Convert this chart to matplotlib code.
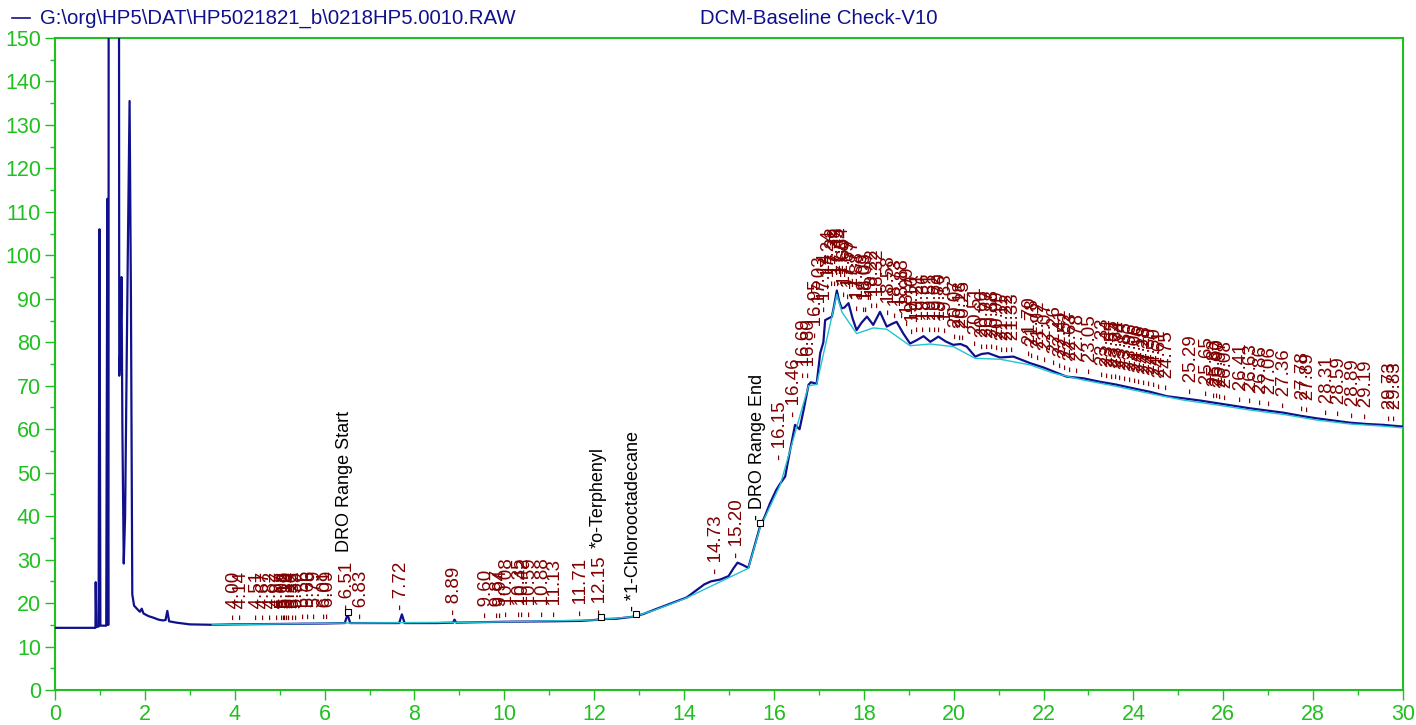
import numpy as np
import matplotlib
matplotlib.use("Agg")
import matplotlib.pyplot as plt

# chromatogram trace (min / response)
rt = [0.0, 0.90, 0.906, 0.92, 0.97, 0.99, 1.01, 1.14, 1.165, 1.18, 1.19, 1.21, 1.30, 1.39,
      1.43, 1.46, 1.48, 1.50, 1.53, 1.56, 1.62, 1.66, 1.69, 1.72, 1.76, 1.85, 1.89, 1.93,
      1.97, 2.08, 2.20, 2.30, 2.40, 2.46, 2.50, 2.54, 2.70, 3.00, 3.50, 4.00, 5.00, 6.00,
      6.45, 6.51, 6.57, 7.00, 7.66, 7.72, 7.78, 8.50, 8.86, 8.89, 8.93, 9.50, 10.0, 11.0,
      11.7, 12.0, 12.15, 12.5, 12.9, 13.1, 13.32, 13.55, 13.76, 14.06, 14.28, 14.45, 14.6,
      14.80, 14.99, 15.10, 15.19, 15.30, 15.43, 15.55, 15.69, 15.80, 15.91, 16.05, 16.14,
      16.25, 16.36, 16.47, 16.57, 16.66, 16.77, 16.82, 16.90, 16.95, 17.03, 17.10, 17.14,
      17.29, 17.34, 17.40, 17.45, 17.51, 17.57, 17.66, 17.75, 17.84, 17.95, 18.07, 18.21,
      18.36, 18.51, 18.62, 18.73, 18.88, 19.03, 19.18, 19.33, 19.48, 19.66, 19.82, 19.99,
      20.15, 20.29, 20.48, 20.62, 20.77, 21.03, 21.33, 21.50, 21.70, 22.00, 22.22, 22.51,
      22.89, 23.26, 23.60, 24.00, 24.37, 24.74, 25.11, 25.48, 25.85, 26.22, 26.60, 26.97,
      27.34, 27.71, 28.08, 28.45, 28.82, 29.19, 29.56, 30.00]
sig = [14.3, 14.3, 24.8, 14.5, 14.6, 106.0, 14.8, 14.8, 113.0, 15.0, 15.0, 700.0, 900.0, 700.0,
       72.3, 80.0, 95.0, 60.0, 29.1, 40.0, 100.0, 135.5, 90.0, 22.0, 19.4, 18.4, 18.0, 18.7,
       17.6, 17.0, 16.6, 16.2, 16.0, 16.1, 18.2, 15.8, 15.5, 15.1, 15.0, 15.1, 15.2, 15.3,
       15.4, 17.4, 15.4, 15.4, 15.4, 17.4, 15.4, 15.4, 15.5, 16.2, 15.5, 15.6, 15.7, 15.8,
       15.9, 16.1, 16.3, 16.4, 16.9, 17.5, 18.4, 19.3, 20.1, 21.3, 23.0, 24.3, 25.0,
       25.4, 26.2, 28.0, 29.3, 28.8, 28.1, 32.5, 37.6, 40.0, 42.9, 46.0, 47.5,
       49.1, 55.2, 61.0, 60.0, 64.4, 70.2, 70.8, 70.6, 70.4, 77.5, 80.0, 85.1,
       85.9, 88.5, 91.9, 89.5, 87.8, 88.0, 89.0, 85.5, 82.8, 84.5, 85.9, 84.0,
       87.0, 83.6, 84.2, 84.7, 82.0, 79.7, 80.5, 81.4, 80.1, 81.3, 80.2, 79.4,
       79.6, 79.0, 76.7, 77.3, 77.5, 76.5, 76.7, 76.0, 75.2, 74.2, 73.3, 72.1,
       71.7, 70.9, 70.3, 69.4, 68.6, 67.6, 67.1, 66.6, 66.0, 65.4, 64.8, 64.3,
       63.8, 63.1, 62.5, 62.0, 61.5, 61.2, 61.0, 60.6]

# integration baseline (cyan)
base_rt = [3.5, 6.45, 6.57, 9.5, 12.0, 12.9, 13.32, 13.76, 14.06, 15.43, 15.69, 16.14, 16.77,
           16.95, 17.40, 17.51, 17.84, 18.21, 18.51, 19.03, 19.48, 19.99, 20.48, 21.03, 21.70,
           22.22, 22.89, 23.60, 24.37, 25.11, 25.85, 26.60, 27.34, 28.08, 28.82, 29.56, 30.0]
base_sig = [15.0, 15.4, 15.4, 15.6, 16.1, 16.9, 18.3, 20.0, 21.2, 28.0, 37.3, 47.2, 70.0,
            70.3, 91.0, 87.0, 82.0, 83.3, 83.0, 79.2, 79.6, 79.0, 76.3, 76.1, 74.8,
            72.9, 71.3, 69.9, 68.2, 66.7, 65.6, 64.4, 63.4, 62.1, 61.2, 60.7, 60.3]

# retention times printed above the peaks
peak_times = [4.00, 4.14, 4.51, 4.67, 4.82, 4.97, 5.08, 5.12, 5.16, 5.19, 5.24, 5.32, 5.39,
              5.56, 5.66, 5.79, 6.01, 6.09, 6.51, 6.83, 7.72, 8.89, 9.60, 9.87, 9.94, 10.08,
              10.35, 10.42, 10.59, 10.88, 11.13, 11.71, 12.15, 14.73, 15.20, 16.15, 16.46,
              16.69, 16.80, 16.95, 17.03, 17.14, 17.24, 17.32, 17.39, 17.45, 17.54, 17.60,
              17.69, 17.77, 17.88, 18.03, 18.09, 18.22, 18.32, 18.58, 18.73, 18.88, 18.99,
              19.10, 19.21, 19.36, 19.51, 19.62, 19.70, 19.83, 20.07, 20.18, 20.25, 20.51,
              20.66, 20.77, 20.88, 20.99, 21.11, 21.22, 21.33, 21.70, 21.78, 21.92, 22.07,
              22.26, 22.41, 22.52, 22.63, 22.78, 23.05, 23.33, 23.44, 23.55, 23.64, 23.74,
              23.85, 23.96, 24.06, 24.16, 24.28, 24.39, 24.50, 24.61, 24.75, 25.29, 25.65,
              25.83, 25.90, 25.97, 26.08, 26.41, 26.63, 26.86, 27.06, 27.36, 27.78, 27.89,
              28.31, 28.59, 28.89, 29.19, 29.73, 29.83]

# named components
named_peaks = ["DRO Range Start", "*o-Terphenyl", "*1-Chlorooctadecane", "DRO Range End"]
named_times = [6.51, 12.15, 12.93, 15.70]

file_name = r"G:\org\HP5\DAT\HP5021821_b\0218HP5.0010.RAW"
method_name = "DCM-Baseline Check-V10"

green = "#1fc01f"
navy = "#10108c"
dark_red = "#800000"

plt.rcParams["font.family"] = ["Liberation Sans Narrow", "Liberation Sans", "DejaVu Sans"]

fig = plt.figure(figsize=(14.16, 7.25), dpi=100)
ax = fig.add_axes([55 / 1416, 1 - 690 / 725, 1348 / 1416, 652 / 725])

rt = np.array(rt)
sig = np.array(sig)
ax.plot(rt, sig, color=navy, lw=1.6, zorder=3)
ax.plot(base_rt, base_sig, color="#22c4d0", lw=1.0, zorder=4)

# label heights follow the highest point of the trace nearby
for t in peak_times:
    win = np.linspace(t - 0.15, t + 0.15, 31)
    h = np.interp(win, rt, sig).max()
    ax.annotate(f"- {t:.2f}", (t, h), xytext=(0, 3), textcoords="offset points",
                rotation=90, ha="center", va="bottom", color=dark_red, fontsize=13.5,
                zorder=5)

for name, t in zip(named_peaks, named_times):
    h = np.interp(t, rt, sig)
    ax.plot(t, h + 0.6, marker="s", ms=5, mfc="white", mec="black", mew=0.8, zorder=6)
    detected = [p for p in peak_times if abs(t - p) < 0.005]
    if detected:
        off = 3 + 6 * len(f"- {detected[0]:.2f}") + 6
        txt = name
    else:
        off = 4
        txt = "- " + name
    ax.annotate(txt, (t, h), xytext=(-2, off), textcoords="offset points",
                rotation=90, ha="center", va="bottom", color="black", fontsize=13,
                zorder=6)

ax.set_xlim(0, 30)
ax.set_ylim(0, 150)
ax.set_xticks(np.arange(0, 31, 2))
ax.set_xticks(np.arange(0, 31, 1), minor=True)
ax.set_yticks(np.arange(0, 151, 10))
ax.set_yticks(np.arange(0, 151, 5), minor=True)
for s in ax.spines.values():
    s.set_color(green)
    s.set_linewidth(1.5)
ax.tick_params(which="both", direction="out", color=green, labelcolor=green, width=1,
               labelsize=15.5)
ax.tick_params(which="major", length=7)
ax.tick_params(which="minor", length=3.5)
ax.tick_params(axis="x", pad=3)
ax.tick_params(axis="y", pad=3)

# header line
fig.add_artist(plt.Line2D([12 / 1416, 30 / 1416], [1 - 18 / 725, 1 - 18 / 725],
                          color=navy, lw=1.2))
fig.text(40 / 1416, 1 - 18 / 725, file_name, color=navy, fontsize=14.7, va="center",
         family=["Liberation Sans", "DejaVu Sans"])
fig.text(700 / 1416, 1 - 18 / 725, method_name, color=navy, fontsize=14.7, va="center",
         family=["Liberation Sans", "DejaVu Sans"])

fig.savefig("out.png", dpi=100)
